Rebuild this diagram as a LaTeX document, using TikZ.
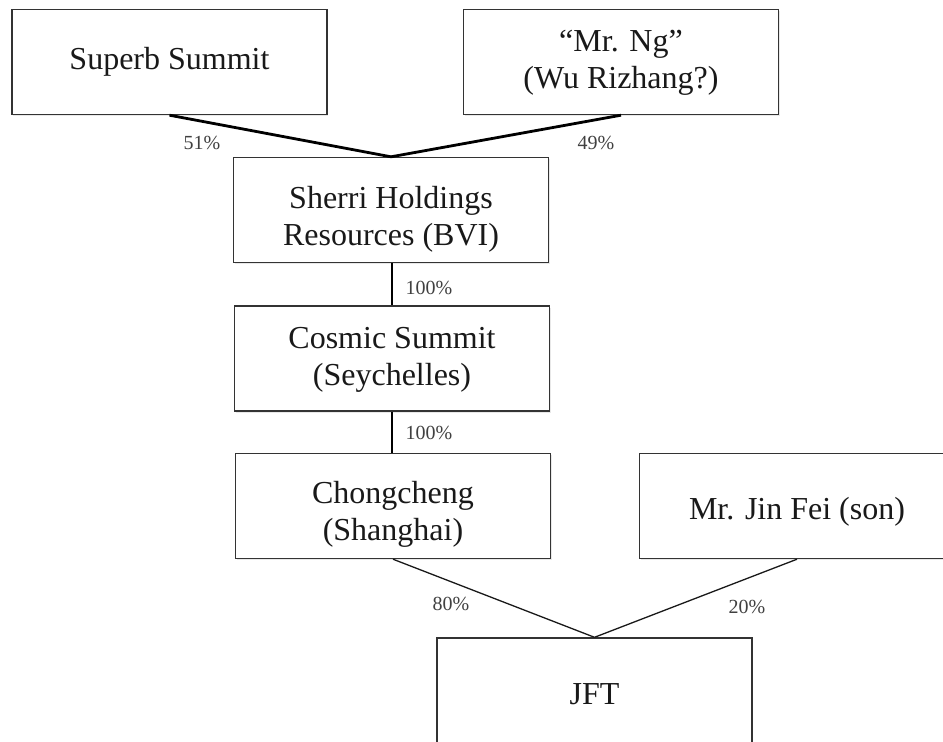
\documentclass[tikz,border=0pt]{standalone}
\usepackage{fontspec}
\setmainfont{Liberation Serif}
\usetikzlibrary{shadows}
\begin{document}
\begin{tikzpicture}[x=1pt,y=-1pt,
  box/.style={draw=black!80, line width=1.4pt, fill=white,
    minimum width=315pt, minimum height=105pt, inner sep=0pt,
    drop shadow={shadow xshift=1pt, shadow yshift=-1.5pt, opacity=0.18}},
  boxtext/.style={align=center, inner sep=0pt,
    font=\fontsize{32}{37}\selectfont, text=black!90},
  heavylink/.style={line width=2.8pt, black},
  lightlink/.style={line width=1.3pt, black!90},
  pct/.style={font=\fontsize{20}{22}\selectfont, text=black!75, inner sep=0pt}]
\path[use as bounding box, clip] (0,0) rectangle (943,742);
\fill[white] (0,0) rectangle (943,742);

\node[box] (superb) at (169.5,62) {};
\node[box] (ng) at (621,62) {};
\node[box] (sherri) at (391,210) {};
\node[box] (cosmic) at (392,358.5) {};
\node[box] (chong) at (393,506) {};
\node[box] (jinfei) at (797,506) {};
\node[box] (jft) at (594.5,690.5) {};

\node[boxtext] (superb-t) at ([yshift=0pt]superb.center) {Superb Summit};
\node[boxtext] (ng-t) at ([yshift=-1pt]ng.center) {``Mr. Ng''\\(Wu Rizhang?)};
\node[boxtext] (sherri-t) at ([yshift=-9pt]sherri.center) {Sherri Holdings\\Resources (BVI)};
\node[boxtext] (cosmic-t) at ([yshift=-1pt]cosmic.center) {Cosmic Summit\\(Seychelles)};
\node[boxtext] (chong-t) at ([yshift=-8pt]chong.center) {Chongcheng\\(Shanghai)};
\node[boxtext] (jinfei-t) at ([yshift=-6pt]jinfei.center) {Mr. Jin Fei (son)};
\node[boxtext] (jft-t) at ([yshift=-4pt]jft.center) {JFT};

\draw[heavylink] (superb.south) -- (sherri.north);
\draw[heavylink] (ng.south) -- (sherri.north);
\draw[heavylink] (sherri.south -| cosmic.north) -- (cosmic.north);
\draw[heavylink] (cosmic.south) -- (cosmic.south |- chong.north);
\draw[lightlink] (chong.south) -- (jft.north);
\draw[lightlink] (jinfei.south) -- (jft.north);

\node[pct] (p51) at (202,143) {51\%};
\node[pct] (p49) at (596,143) {49\%};
\node[pct] (p100a) at (429,288) {100\%};
\node[pct] (p100b) at (429,433) {100\%};
\node[pct] (p80) at (451,604) {80\%};
\node[pct] (p20) at (747,607) {20\%};
\end{tikzpicture}
\end{document}
